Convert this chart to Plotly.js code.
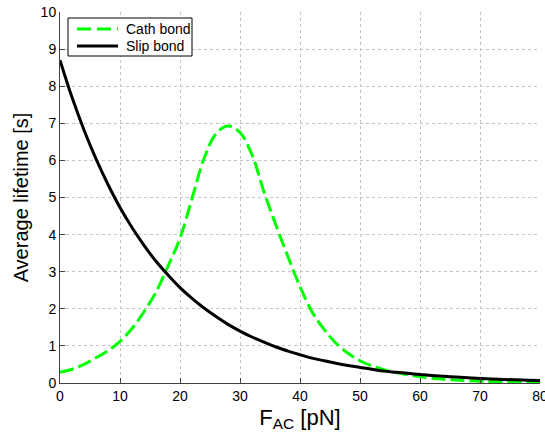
<!DOCTYPE html>
<html>
<head>
<meta charset="utf-8">
<script src="https://cdn.plot.ly/plotly-3.0.1.min.js"></script>
<style>html,body{margin:0;padding:0;background:#fff;} #chart{width:545px;height:437px;}</style>
</head>
<body>
<div id="chart"></div>
<script>
// Force F_AC [pN]
const force = [0,2,4,6,8,10,12,14,16,18,20,22,24,26,28,30,32,34,36,38,40,42,44,46,48,50,52,54,56,58,60,62,64,66,68,70,72,74,76,78,80];
// Average lifetime [s] — catch bond
const catchBond = [0.29,0.37,0.50,0.68,0.87,1.12,1.47,1.92,2.45,3.15,3.90,4.97,6.05,6.72,6.93,6.75,6.15,5.15,4.25,3.40,2.60,1.92,1.45,1.07,0.80,0.60,0.46,0.36,0.28,0.22,0.17,0.13,0.10,0.08,0.06,0.05,0.04,0.03,0.025,0.02,0.018];
// Average lifetime [s] — slip bond
const slipBond = [8.70,7.70,6.82,6.04,5.35,4.73,4.19,3.71,3.28,2.91,2.57,2.28,2.02,1.79,1.58,1.40,1.24,1.10,0.97,0.86,0.76,0.67,0.60,0.53,0.47,0.42,0.37,0.32,0.29,0.26,0.23,0.20,0.18,0.16,0.14,0.12,0.11,0.096,0.085,0.075,0.066];
const xTicks = [0,10,20,30,40,50,60,70,80];
const yTicks = [0,1,2,3,4,5,6,7,8,9,10];
const seriesNames = ['Cath bond','Slip bond'];
const seriesColors = ['#00ff00','#000000'];

const font = 'Liberation Sans, Arial, sans-serif';
const W = 545, H = 437;
const M = {l: 60, r: 5, t: 12, b: 54};
const pw = W - M.l - M.r, ph = H - M.t - M.b;
const px = v => (v - M.l) / pw;          // pixel -> paper x
const py = v => (H - M.b - v) / ph;      // pixel -> paper y

const traces = [
  {x: force, y: catchBond, name: seriesNames[0], mode: 'lines',
   line: {color: seriesColors[0], width: 3, dash: '14px,5px', shape: 'spline'}},
  {x: force, y: slipBond, name: seriesNames[1], mode: 'lines',
   line: {color: seriesColors[1], width: 3, shape: 'spline'}}
];

// legend (drawn as shapes + annotations to match the compact MATLAB box)
const shapes = [
  {type: 'rect', xref: 'paper', yref: 'paper', x0: px(68), x1: px(192), y0: py(56), y1: py(18),
   line: {color: '#000', width: 1}, fillcolor: '#fff', layer: 'above'}
];
const annotations = [];
const rowY = [29, 46];
seriesNames.forEach((n, i) => {
  shapes.push({type: 'line', xref: 'paper', yref: 'paper', x0: px(77), x1: px(118), y0: py(rowY[i]), y1: py(rowY[i]),
    line: {color: seriesColors[i], width: 3, dash: i === 0 ? '14px,6px' : 'solid'}, layer: 'above'});
  annotations.push({xref: 'paper', yref: 'paper', x: px(124), y: py(rowY[i]), xanchor: 'left', yanchor: 'middle',
    text: n, showarrow: false, font: {family: font, size: 14, color: '#000'}});
});

const axisCommon = {
  showgrid: true, gridcolor: '#c4c4c4', griddash: 'dot', gridwidth: 1,
  zeroline: false, showline: true, linecolor: '#404040', linewidth: 1,
  ticks: 'inside', ticklen: 5, tickcolor: '#404040',
  tickfont: {family: font, size: 14, color: '#000'}, ticklabeloverflow: 'allow'
};
const layout = {
  width: W, height: H,
  margin: M,
  paper_bgcolor: '#fff', plot_bgcolor: '#fff',
  showlegend: false,
  shapes: shapes, annotations: annotations,
  xaxis: Object.assign({}, axisCommon, {
    range: [0, 80], tickvals: xTicks, ticktext: xTicks.map(String),
    title: {text: 'F<sub>AC</sub> [pN]', font: {family: font, size: 22, color: '#000'}, standoff: 6}
  }),
  yaxis: Object.assign({}, axisCommon, {
    range: [0, 10], tickvals: yTicks, ticktext: yTicks.map(String),
    title: {text: 'Average lifetime [s]', font: {family: font, size: 20, color: '#000'}, standoff: 6}
  })
};
Plotly.newPlot('chart', traces, layout, {displayModeBar: false, staticPlot: true});
</script>
</body>
</html>
